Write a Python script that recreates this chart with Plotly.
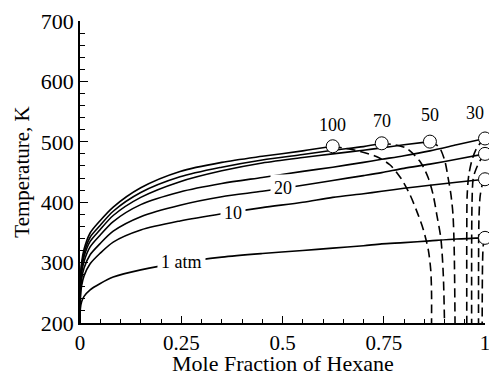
import plotly.graph_objects as go

# ---------------- data ----------------
# Solid (dew) curves: mole fraction of hexane vs temperature (K)
x_grid = [0, 0.001, 0.004, 0.01, 0.025, 0.049, 0.082, 0.15, 0.247, 0.35,
          0.45, 0.55, 0.624, 0.70, 0.745, 0.80, 0.864, 0.93, 1.0]

dew_100_T = [200, 272, 300, 322, 349, 369, 392, 424, 451, 466, 476, 485, 492.6]
dew_70_T = [200, 268, 295, 316, 342, 361, 385, 416, 442, 458, 470, 479, 486, 492, 497.5]
dew_50_T = [200, 264, 290, 310, 335, 354, 378, 408, 434, 452, 465, 474, 480, 486, 490, 495, 500.3]
dew_30_T = [200, 258, 283, 302, 326, 345, 368, 396, 417, 431, 441, 451, 458, 466, 471, 477, 485, 495, 505.5]
dew_20_T = [200, 250, 273, 291, 313, 331, 352, 376, 395, 409, 418, 428, 436, 444, 449, 456, 463, 471, 480]
dew_10_T = [200, 242, 262, 278, 298, 315, 334, 354, 369, 381, 391, 400, 408, 414, 418, 423, 428, 433, 438]
dew_1_T = [200, 224, 235, 244, 255, 265, 276, 288, 300, 309, 315, 320, 324, 328, 331, 333, 336, 339, 341]

# Dashed (bubble) curves
bub_100_x = [0.624, 0.68, 0.73, 0.765, 0.792, 0.815, 0.835, 0.848, 0.860, 0.866, 0.868, 0.868]
bub_100_T = [492.6, 486, 476, 462, 440, 412, 379, 354, 321, 288, 250, 200]
bub_70_x = [0.745, 0.785, 0.807, 0.840, 0.860, 0.872, 0.881, 0.891, 0.897, 0.900]
bub_70_T = [497.5, 494, 489, 467, 440, 412, 379, 340, 280, 200]
bub_50_x = [0.864, 0.880, 0.889, 0.901, 0.909, 0.916, 0.921, 0.924, 0.926]
bub_50_T = [500.3, 495, 489, 468, 440, 412, 379, 320, 200]
bub_30_x = [1.0, 0.99, 0.979, 0.968, 0.960, 0.956, 0.955, 0.955]
bub_30_T = [505.5, 499, 489, 470, 445, 412, 350, 200]
bub_20_x = [1.0, 0.988, 0.978, 0.971, 0.968, 0.967]
bub_20_T = [480, 469, 455, 440, 400, 200]
bub_10_x = [1.0, 0.993, 0.988, 0.985, 0.984]
bub_10_T = [438, 428, 410, 370, 200]
bub_1_x = [1.0, 0.996, 0.994, 0.993]
bub_1_T = [341, 330, 300, 200]

# Critical / end points (open circles)
crit_x = [1.0, 1.0, 1.0, 1.0, 0.864, 0.745, 0.624]
crit_T = [341, 438, 480, 505.5, 500.3, 497.5, 492.6]

# Pressure labels
label_text = ["1 atm", "10", "20", "100", "70", "50", "30"]
label_x = [0.25, 0.378, 0.5, 0.624, 0.745, 0.864, 0.975]
label_T = [301, 382, 423, 527, 534, 544, 547]
label_bg = [True, True, True, False, False, False, False]

x_tickvals = [0, 0.25, 0.5, 0.75, 1]
x_ticktext = ["0", "0.25", "0.5", "0.75", "1"]
y_tickvals = [200, 300, 400, 500, 600, 700]

x_title = "Mole Fraction of Hexane"
y_title = "Temperature, K"

# ---------------- figure ----------------
FONT = "Liberation Serif"
fig = go.Figure()

dew_sets = [dew_100_T, dew_70_T, dew_50_T, dew_30_T, dew_20_T, dew_10_T, dew_1_T]
for T in dew_sets:
    fig.add_trace(go.Scatter(x=x_grid[:len(T)], y=T, mode="lines",
                             line=dict(color="black", width=1.6, shape="spline", smoothing=0.8),
                             hoverinfo="skip", showlegend=False))

bub_sets = [(bub_100_x, bub_100_T), (bub_70_x, bub_70_T), (bub_50_x, bub_50_T),
            (bub_30_x, bub_30_T), (bub_20_x, bub_20_T), (bub_10_x, bub_10_T),
            (bub_1_x, bub_1_T)]
for bx, bT in bub_sets:
    fig.add_trace(go.Scatter(x=bx, y=bT, mode="lines",
                             line=dict(color="black", width=1.6, dash="9px,5px",
                                       shape="spline", smoothing=0.8),
                             hoverinfo="skip", showlegend=False))

fig.add_trace(go.Scatter(x=crit_x, y=crit_T, mode="markers", cliponaxis=False,
                         marker=dict(size=13, color="white",
                                     line=dict(color="black", width=1)),
                         hoverinfo="skip", showlegend=False))

for t, lx, lT, bg in zip(label_text, label_x, label_T, label_bg):
    fig.add_annotation(x=lx, y=lT, text=t, showarrow=False,
                       font=dict(family=FONT, size=18, color="black"),
                       bgcolor="white" if bg else "rgba(0,0,0,0)",
                       borderpad=3 if bg else 0)

# x-axis title placed precisely in the bottom margin
fig.add_annotation(xref="paper", yref="paper", x=0.5, y=0, yanchor="bottom",
                   yshift=-54, text=x_title, showarrow=False, borderpad=0,
                   font=dict(family=FONT, size=22, color="black"))

fig.update_layout(
    width=489, height=375,
    margin=dict(l=80, r=4, t=21, b=52, autoexpand=False),
    paper_bgcolor="white", plot_bgcolor="white",
    font=dict(family=FONT, size=22, color="black"),
    showlegend=False,
)
fig.update_xaxes(range=[0, 1], tickmode="array", tickvals=x_tickvals, ticktext=x_ticktext,
                 automargin=False, ticklabeloverflow="allow", ticklabelstandoff=0,
                 showline=True, linecolor="black", linewidth=1.5, mirror=False,
                 ticks="inside", ticklen=7, tickwidth=1.2, tickcolor="black",
                 showgrid=False, zeroline=False,
                 minor=dict(dtick=0.05, tick0=0, ticks="inside", ticklen=4,
                            tickwidth=1, tickcolor="black", showgrid=False),
                 tickfont=dict(family=FONT, size=21, color="black"))
fig.update_yaxes(range=[200, 700], tickmode="array", tickvals=y_tickvals,
                 automargin=False, ticklabeloverflow="allow",
                 showline=True, linecolor="black", linewidth=1.5, mirror=False,
                 ticks="inside", ticklen=8, tickwidth=1.2, tickcolor="black",
                 showgrid=False, zeroline=False,
                 minor=dict(dtick=20, tick0=200, ticks="inside", ticklen=5,
                            tickwidth=1, tickcolor="black", showgrid=False),
                 title=dict(text=y_title, standoff=5,
                            font=dict(family=FONT, size=21, color="black")),
                 tickfont=dict(family=FONT, size=22, color="black"))

fig.write_html("out.html",
               config={"displayModeBar": False},
               post_script="document.body.style.margin='0';"
                           "document.body.style.overflow='hidden';")
